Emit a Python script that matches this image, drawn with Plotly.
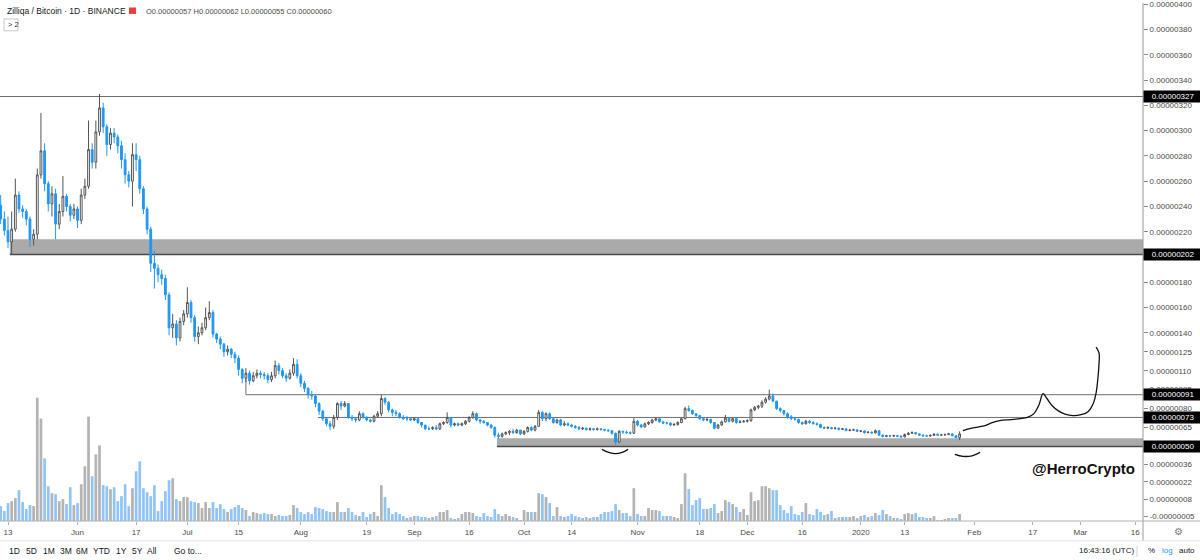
import numpy as np
import pandas as pd
import plotly.graph_objects as go

# ZIL/BTC daily candles, prices in satoshi (1e-8 BTC), 2019-05-11 .. 2020-01-28
first_open = 241
closes = [
    230, 221, 212, 222, 249, 238, 236, 230, 214, 218,
    265, 284, 258, 242, 250, 226, 236, 248, 240, 233,
    238, 229, 249, 256, 285, 275, 299, 318, 303, 289,
    298, 295, 288, 277, 265, 260, 281, 277, 254, 238,
    222, 195, 191, 186, 183, 170, 144, 147, 136, 149,
    155, 164, 152, 137, 140, 144, 152, 156, 139, 135,
    131, 125, 127, 123, 120, 111, 104, 108, 102, 106,
    108, 107, 106, 103, 106, 114, 110, 106, 104, 108,
    115, 106, 100, 96, 91, 90, 84, 78, 72, 68,
    66, 73, 84, 82, 84, 73, 72, 71, 76, 73,
    71, 70, 74, 76, 88, 85, 79, 77, 76, 73,
    72, 72, 71, 72, 69, 67, 64, 64, 65, 64,
    68, 69, 73, 67, 68, 67, 68, 70, 73, 76,
    71, 70, 69, 67, 65, 59, 58, 60, 61, 62,
    61, 63, 60, 62, 65, 63, 66, 77, 72, 76,
    72, 69, 71, 67, 68, 67, 66, 65, 64, 64.5,
    63.5, 64, 63.5, 64, 63.5, 63, 62.5, 60.5, 53.5, 62,
    61.5, 61, 60.5, 70, 67, 65.5, 68, 69, 71, 72,
    69.5, 68.5, 68.5, 67, 67.5, 69, 72, 80, 78.5, 76,
    74.5, 72, 71, 71.5, 69, 64.5, 67, 69.5, 72.5, 70,
    72, 69, 69.5, 70, 70.5, 79, 81, 82, 85, 87.5,
    90, 86, 80, 78.5, 76, 73.5, 72, 71.5, 69, 68,
    70, 69, 68, 67.5, 65, 64.5, 65, 64.3, 64.5, 63.5,
    64, 62.7, 63, 63.2, 62, 62.3, 61, 61.3, 60.8, 62.5,
    59, 58, 58.5, 58.3, 58.6, 58.2, 57.6, 59.5, 60.5, 61,
    60, 59, 58.5, 58.3, 58.8, 59.8, 59, 59.2, 59.4, 60,
    58.5, 57, 60,
]
highs = [
    249, 236, 232, 236, 262, 252, 241, 238, 232, 222,
    270, 314, 290, 260, 256, 254, 242, 264, 250, 242,
    242, 240, 254, 262, 308, 290, 308, 329, 322, 305,
    302, 302, 297, 292, 282, 268, 290, 290, 280, 256,
    240, 224, 205, 194, 190, 186, 172, 155, 150, 152,
    158, 176, 166, 154, 145, 148, 160, 165, 158, 140,
    137, 132, 130, 128, 125, 122, 112, 112, 110, 109,
    111, 110, 109, 108, 109, 118, 116, 112, 108, 111,
    120, 119, 108, 102, 97, 94, 91, 85, 79, 73,
    70, 75, 85, 86, 86, 84, 75, 73, 78, 77,
    74, 72, 75, 78, 91, 89, 86, 80, 79, 77,
    75, 74, 73, 73, 73, 69, 67, 66, 66, 67,
    69, 70, 77, 73, 69, 69, 69, 71, 74, 78,
    77, 72, 71, 69, 68, 66, 61, 61, 62, 63,
    64, 64, 63, 63, 66, 66, 67, 79, 78, 77,
    77, 73, 72, 72, 70, 69, 68, 67, 66, 65.5,
    65, 65, 64.5, 65, 64.5, 64, 63.5, 63, 61, 63,
    62.5, 62.5, 62, 72.5, 71, 68, 69, 70, 72, 73,
    72.5, 70, 69.5, 69, 68.5, 70, 73, 81.5, 82.5, 79,
    76.5, 75, 73, 72.5, 72, 69, 68, 70.5, 75, 73,
    73, 72.5, 71, 71, 71.5, 80, 82, 83, 86.5, 89,
    95, 92, 86, 81, 79, 77, 75, 73, 72, 70,
    71, 71, 70, 69, 68, 66, 66, 65.5, 65.5, 65,
    64.8, 64.5, 64, 64, 63.5, 63, 62.8, 62, 62, 63.5,
    63, 59.8, 59.3, 59.2, 59.3, 59.2, 58.7, 60.3, 61.5, 62,
    61.5, 60.5, 59.6, 59.3, 59.5, 60.5, 60.2, 60, 60.2, 60.8,
    60.5, 59, 62,
]
lows = [
    226, 217, 207, 202, 220, 235, 231, 225, 208, 209,
    214, 262, 252, 236, 232, 214, 222, 232, 236, 228,
    230, 223, 226, 246, 254, 270, 270, 296, 298, 280,
    285, 290, 282, 270, 258, 255, 240, 268, 250, 234,
    218, 188, 175, 180, 178, 166, 138, 136, 130, 133,
    146, 152, 148, 133, 131, 138, 142, 150, 136, 132,
    127, 121, 122, 120, 116, 106, 100, 101, 99, 101,
    104, 104, 103, 100, 101, 104, 107, 104, 101, 103,
    106, 104, 97, 93, 88, 87, 81, 75, 70, 66,
    63, 64, 71, 79, 81, 72, 70, 69, 70, 72,
    70, 69, 69, 73, 74, 83, 77, 74, 74, 72,
    71, 70, 70, 70, 68, 65, 63, 63, 63, 63,
    63, 67, 68, 65, 66, 66, 66, 67, 69, 72,
    70, 68, 68, 66, 64, 57, 56, 57, 59, 59,
    60, 60, 59, 59, 61, 62, 62, 66, 70, 70,
    71, 68, 68, 66, 66, 66, 65, 64, 63, 63,
    62.5, 62.5, 62.5, 62.5, 62.5, 62, 61.5, 59.5, 51.5, 53,
    60, 60, 59.5, 60, 66, 64.5, 65, 67, 68, 70,
    69, 68, 67.5, 66, 66.5, 66.5, 68.5, 71.5, 77.5, 75,
    73.5, 71, 70, 70, 68, 63.5, 64, 66.5, 69, 69,
    69, 68, 68.5, 69, 69, 69.5, 78, 79.5, 80.5, 84,
    86.5, 85, 79, 77, 74.5, 72, 71, 70.5, 68, 67,
    67.5, 68, 67.5, 66.5, 64.5, 63.8, 64, 63.5, 63.5, 62.8,
    63, 62, 62, 62.3, 61.5, 61.5, 60.3, 60.5, 60, 60.3,
    58.3, 57.2, 57.5, 57.6, 57.7, 57.4, 57, 57.2, 59, 60,
    59.5, 58.5, 57.8, 57.6, 57.8, 58.3, 58.4, 58.5, 58.6, 59,
    58, 56.5, 55,
]
# volume, relative units (overlay on the bottom of the pane)
volumes = [
    15, 10, 18, 20, 23, 31, 19, 12, 16, 15,
    124, 103, 63, 35, 28, 27, 20, 22, 17, 34,
    16, 18, 37, 55, 105, 45, 67, 76, 36, 35,
    32, 34, 20, 25, 37, 15, 33, 50, 60, 33,
    29, 25, 36, 10, 20, 30, 41, 43, 22, 20,
    24, 24, 20, 19, 18, 13, 19, 13, 19, 13,
    17, 12, 9, 12, 14, 16, 13, 11, 5, 9,
    8, 7, 8, 7, 7, 5, 6, 5, 5, 6,
    16, 13, 9, 7, 9, 7, 14, 13, 12, 10,
    9, 9, 19, 9, 9, 13, 9, 6, 5, 9,
    4, 7, 9, 5, 36, 24, 13, 7, 9, 7,
    5, 3, 4, 5, 5, 4, 4, 3, 4, 5,
    9, 9, 11, 3, 2, 3, 7, 9, 9, 8,
    5, 4, 8, 5, 4, 12, 7, 5, 7, 5,
    4, 3, 1, 11, 9, 9, 9, 28, 27, 24,
    18, 5, 14, 5, 4, 5, 7, 5, 4, 3,
    4, 3, 4, 4, 7, 9, 9, 10, 17, 11,
    8, 8, 5, 33, 7, 5, 5, 13, 11, 11,
    10, 5, 5, 5, 4, 3, 17, 48, 32, 16,
    21, 23, 12, 12, 13, 17, 8, 10, 21, 19,
    17, 14, 9, 12, 6, 29, 20, 21, 35, 35,
    33, 31, 31, 16, 11, 8, 15, 7, 6, 9,
    18, 7, 6, 12, 9, 6, 7, 10, 3, 4,
    4, 4, 4, 5, 3, 5, 6, 4, 5, 8,
    6, 11, 7, 5, 3, 3, 2, 7, 8, 7,
    8, 4, 4, 3, 3, 5, 1, 1, 2, 3,
    3, 3, 7,
]
dates = pd.date_range("2019-05-11", periods=len(closes), freq="D")
opens = [first_open] + closes[:-1]
assert len(highs) == len(lows) == len(volumes) == len(closes)

# horizontal levels / zones drawn on the chart (satoshi)
level_high = 327
zone_upper = (202, 214)
level_91 = 91
level_73 = 73
zone_lower = (50, 56.5)
axis_marks = [327, 202, 91, 73, 50]

# hand drawn strokes: days after 2019-05-13, price in satoshi
draw_base = pd.Timestamp("2019-05-13")
smile_oct_days = [162.3, 163.7, 165.8, 167.8, 169.4]
smile_oct_px = [47.7, 45.7, 44.3, 45.3, 47.7]
smile_jan_days = [258.7, 260.9, 263.4, 265.6]
smile_jan_px = [43.8, 42.2, 42.6, 45.3]
proj_days = [260.9, 262.8, 265.0, 266.9, 268.9, 271.0, 273.8, 276.5, 278.7, 280.3,
             281.7, 282.8, 283.9, 285.3, 286.9, 288.8, 291.0, 293.2, 295.1, 296.5,
             297.3, 297.8, 298.1, 298.1, 297.3]
proj_px = [62.6, 64.2, 65.4, 66.6, 68.9, 70.5, 71.3, 72.1, 73.3, 76.0,
           83.1, 91.8, 87.8, 82.3, 78.4, 75.6, 74.4, 75.2, 77.6, 83.9,
           92.5, 104.3, 116.1, 124.0, 128.7]

y_ticks = [400, 380, 360, 340, 320, 300, 280, 260, 240, 220, 180, 160, 140,
           125, 110, 95, 80, 65, 36, 22, 8, -5]
x_ticks = ["2019-05-13", "2019-06-01", "2019-06-17", "2019-07-01", "2019-07-15",
           "2019-08-01", "2019-08-19", "2019-09-01", "2019-09-16", "2019-10-01",
           "2019-10-14", "2019-11-01", "2019-11-18", "2019-12-01", "2019-12-16",
           "2020-01-01", "2020-01-13", "2020-02-01", "2020-02-17", "2020-03-01",
           "2020-03-16"]
x_labels = ["13", "Jun", "17", "Jul", "15", "Aug", "19", "Sep", "16", "Oct", "14",
            "Nov", "18", "Dec", "16", "2020", "13", "Feb", "17", "Mar", "16"]
range_buttons = ["1D", "5D", "1M", "3M", "6M", "YTD", "1Y", "5Y", "All", "Go to..."]

X_START, X_END = "2019-05-10 19:30", "2020-03-18 02:40"
PLOT_W, PLOT_H = 1143, 521
FONT = "Liberation Sans, Arial, sans-serif"
DAY_MS = 86400000


def fx(px):
    return px / PLOT_W


def fy(py):
    return (PLOT_H - py) / PLOT_H


def sats(v):
    return f"{v / 1e8:.8f}"


up = np.array(closes) >= np.array(opens)
vol_colors = np.where(up, "#b3b3b3", "#90c4f6")

fig = go.Figure()

fig.add_trace(go.Bar(
    x=dates, y=volumes, yaxis="y",
    marker=dict(color=vol_colors, line=dict(width=0)),
    width=0.74 * DAY_MS, hoverinfo="skip",
))

fig.add_trace(go.Candlestick(
    x=dates, open=opens, high=highs, low=lows, close=closes,
    yaxis="y2", whiskerwidth=0,
    increasing=dict(line=dict(color="#555555", width=1), fillcolor="#ffffff"),
    decreasing=dict(line=dict(color="#2196f3", width=1), fillcolor="#2196f3"),
))

for days, vals in [(smile_oct_days, smile_oct_px), (smile_jan_days, smile_jan_px),
                   (proj_days, proj_px)]:
    fig.add_trace(go.Scatter(
        x=draw_base + pd.to_timedelta(days, unit="D"), y=vals, yaxis="y2",
        mode="lines", line=dict(color="#111111", width=1.3, shape="spline"),
        hoverinfo="skip",
    ))

shapes = [
    dict(type="line", xref="paper", yref="y2", x0=0, x1=1, y0=level_high, y1=level_high,
         line=dict(color="#6e6e6e", width=1), layer="below"),
    dict(type="rect", xref="x", yref="y2", x0="2019-05-13 12:00", x1=X_END,
         y0=zone_upper[0], y1=zone_upper[1], fillcolor="#aaaaaa",
         line=dict(width=0), layer="below"),
    dict(type="line", xref="x", yref="y2", x0="2019-05-13 12:00", x1=X_END,
         y0=zone_upper[0], y1=zone_upper[0], line=dict(color="#4a4a4a", width=1.4),
         layer="below"),
    dict(type="line", xref="x", yref="y2", x0="2019-07-17", x1="2019-07-17",
         y0=108, y1=level_91, line=dict(color="#6e6e6e", width=1), layer="below"),
    dict(type="line", xref="x", yref="y2", x0="2019-07-17", x1=X_END,
         y0=level_91, y1=level_91, line=dict(color="#6e6e6e", width=1), layer="below"),
    dict(type="line", xref="x", yref="y2", x0="2019-08-05 17:00", x1=X_END,
         y0=level_73, y1=level_73, line=dict(color="#6e6e6e", width=1), layer="below"),
    dict(type="rect", xref="x", yref="y2", x0="2019-09-23 14:00", x1=X_END,
         y0=zone_lower[0], y1=zone_lower[1], fillcolor="#aaaaaa",
         line=dict(width=0), layer="below"),
    dict(type="line", xref="x", yref="y2", x0="2019-09-23 14:00", x1=X_END,
         y0=zone_lower[0], y1=zone_lower[0], line=dict(color="#4a4a4a", width=1.4),
         layer="below"),
    # pane borders
    dict(type="line", xref="paper", yref="paper", x0=1, x1=1, y0=fy(541), y1=1,
         line=dict(color="#9a9a9a", width=1)),
    dict(type="line", xref="paper", yref="paper", x0=0, x1=1200 / PLOT_W, y0=0, y1=0,
         line=dict(color="#b0b0b0", width=1)),
    dict(type="line", xref="paper", yref="paper", x0=0, x1=1200 / PLOT_W, y0=fy(541),
         y1=fy(541), line=dict(color="#e0e3eb", width=1)),
    dict(type="line", xref="paper", yref="paper", x0=fx(1137), x1=fx(1137),
         y0=fy(546), y1=fy(557), line=dict(color="#d0d0d0", width=1)),
    # legend widgets
    dict(type="rect", xref="paper", yref="paper", x0=fx(129), x1=fx(136),
         y0=fy(11), y1=fy(4.5), fillcolor="#ef3b3b", line=dict(width=0)),
    dict(type="rect", xref="paper", yref="paper", x0=fx(4), x1=fx(18),
         y0=fy(28), y1=fy(16), fillcolor="white", line=dict(color="#c8c8c8", width=1)),
]

annotations = [
    dict(x=fx(5), y=fy(8.5), text="Zilliqa / Bitcoin · 1D · BINANCE",
         font=dict(size=8.5, color="#131722")),
    dict(x=fx(144), y=fy(9), text="O0.00000057 H0.00000062 L0.00000055 C0.00000060",
         font=dict(size=7.5, color="#4a4a4a")),
    dict(x=fx(6), y=fy(22), text="&gt; 2", font=dict(size=7.5, color="#333333")),
    dict(x=fx(1030), y=fy(468), text="<b>@HerroCrypto</b>",
         font=dict(size=15, color="#111111")),
    dict(x=fx(1077), y=fy(551), text="16:43:16 (UTC)", font=dict(size=8, color="#131722")),
    dict(x=fx(1146), y=fy(551), text="%", font=dict(size=8, color="#131722")),
    dict(x=fx(1160), y=fy(551), text="log", font=dict(size=8, color="#2196f3")),
    dict(x=fx(1177), y=fy(551), text="auto", font=dict(size=8, color="#131722")),
    dict(x=fx(1172), y=fy(532), text="⚙", font=dict(size=10, color="#777777")),
]
for px, label in zip([7, 24, 41, 58, 74, 91, 114, 130, 145, 172], range_buttons):
    annotations.append(dict(x=fx(px), y=fy(551), text=label,
                            font=dict(size=8.5, color="#131722")))
for a in annotations:
    a.update(xref="paper", yref="paper", xanchor="left", yanchor="middle", showarrow=False)

for v in axis_marks:
    annotations.append(dict(
        x=1, y=v, xref="paper", yref="y2", xanchor="left", yanchor="middle",
        text="&nbsp;&nbsp;&nbsp;" + sats(v) + "&nbsp;&nbsp;&nbsp;", showarrow=False,
        bgcolor="#000000", borderpad=1, font=dict(size=8, color="#ffffff"),
    ))

fig.update_layout(
    width=1200, height=560,
    margin=dict(l=0, r=57, t=0, b=39),
    paper_bgcolor="white", plot_bgcolor="white",
    font=dict(family=FONT),
    showlegend=False, barmode="overlay", boxgap=0.3,
    xaxis=dict(
        type="date", range=[X_START, X_END], tickvals=x_ticks, ticktext=x_labels,
        showgrid=False, zeroline=False, showline=False,
        ticks="outside", ticklen=3, tickcolor="#b0b0b0",
        tickfont=dict(size=8, color="#4a4a4a"),
        rangeslider=dict(visible=False), fixedrange=True,
    ),
    yaxis=dict(range=[0, PLOT_H], visible=False, fixedrange=True),
    yaxis2=dict(
        overlaying="y", side="right", range=[-8.95, 401],
        tickvals=y_ticks, ticktext=[sats(v) for v in y_ticks],
        showgrid=False, zeroline=False, showline=False,
        ticks="outside", ticklen=4, tickcolor="#8a8a8a", ticklabeloverflow="allow",
        tickfont=dict(size=8, color="#4a4a4a"), fixedrange=True,
    ),
    shapes=shapes,
    annotations=annotations,
)

# the page body has a default 8px margin; drop it so the chart fills the window
fig.write_html("out.html", config={"displayModeBar": False},
               post_script="document.body.style.margin='0';")
